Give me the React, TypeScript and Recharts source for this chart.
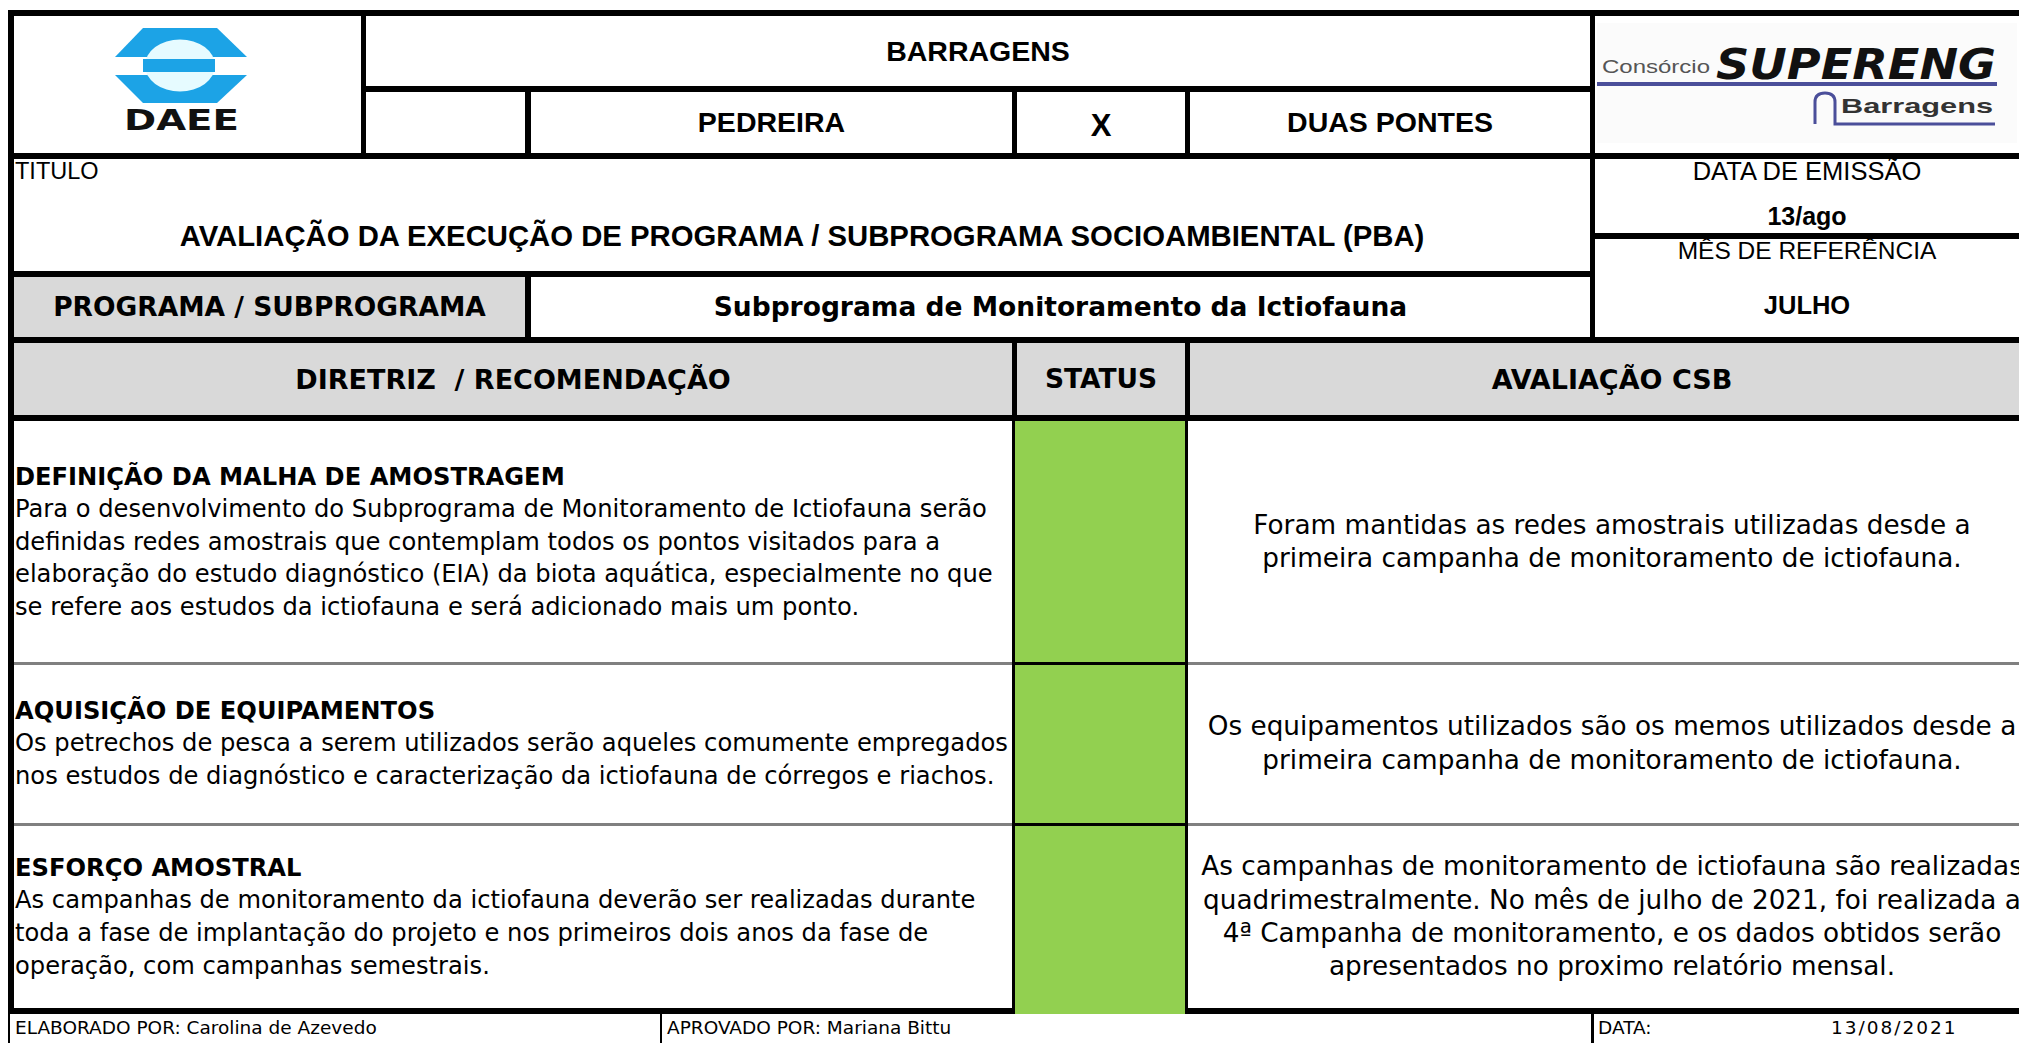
import { BarChart, Bar, XAxis, YAxis } from 'recharts';

const ARIAL = '"Liberation Sans", Arial, sans-serif';
const VERDANA = '"DejaVu Sans", Verdana, sans-serif';

const siteNames = ['PEDREIRA', 'X', 'DUAS PONTES'];
const docTitle = 'AVALIAÇÃO DA EXECUÇÃO DE PROGRAMA / SUBPROGRAMA SOCIOAMBIENTAL (PBA)';
const programName = 'Subprograma de Monitoramento da Ictiofauna';
const emissionDate = '13/ago';
const refMonth = 'JULHO';

const diretrizTitles = [
  'DEFINIÇÃO DA MALHA DE AMOSTRAGEM',
  'AQUISIÇÃO DE EQUIPAMENTOS',
  'ESFORÇO AMOSTRAL',
];
const diretrizLines = [
  [
    'Para o desenvolvimento do Subprograma de Monitoramento de Ictiofauna serão',
    'definidas redes amostrais que contemplam todos os pontos visitados para a',
    'elaboração do estudo diagnóstico (EIA) da biota aquática, especialmente no que',
    'se refere aos estudos da ictiofauna e será adicionado mais um ponto.',
  ],
  [
    'Os petrechos de pesca a serem utilizados serão aqueles comumente empregados',
    'nos estudos de diagnóstico e caracterização da ictiofauna de córregos e riachos.',
  ],
  [
    'As campanhas de monitoramento da ictiofauna deverão ser realizadas durante',
    'toda a fase de implantação do projeto e nos primeiros dois anos da fase de',
    'operação, com campanhas semestrais.',
  ],
];
const avaliacaoLines = [
  [
    'Foram mantidas as redes amostrais utilizadas desde a',
    'primeira campanha de monitoramento de ictiofauna.',
  ],
  [
    'Os equipamentos utilizados são os memos utilizados desde a',
    'primeira campanha de monitoramento de ictiofauna.',
  ],
  [
    'As campanhas de monitoramento de ictiofauna são realizadas',
    'quadrimestralmente. No mês de julho de 2021, foi realizada a',
    '4ª Campanha de monitoramento, e os dados obtidos serão',
    'apresentados no proximo relatório mensal.',
  ],
];
const statusValues = [1, 1, 1];
const statusColors = ['#92d050', '#92d050', '#92d050'];
const footerLabels = ['ELABORADO POR: Carolina de Azevedo', 'APROVADO POR: Mariana Bittu', 'DATA:', '13/08/2021'];

// row geometry of the body
const rowTops = [421, 663, 824];
const rowBottoms = [663, 824, 1010];

function Line({ x, y, w, h, c = '#000' }: { x: number; y: number; w: number; h: number; c?: string }) {
  return <div style={{ position: 'absolute', left: x, top: y, width: w, height: h, background: c }} />;
}

function Cell({ x, y, w, h, children, style }: any) {
  return (
    <div
      style={{
        position: 'absolute',
        left: x,
        top: y,
        width: w,
        height: h,
        display: 'flex',
        alignItems: 'center',
        justifyContent: 'center',
        whiteSpace: 'pre',
        lineHeight: 1,
        ...style,
      }}
    >
      {children}
    </div>
  );
}

function StatusCell({ w, h, value, color }: { w: number; h: number; value: number; color: string }) {
  const data = [{ name: 'status', value }];
  return (
    <BarChart width={w} height={h} data={data} layout="vertical" margin={{ top: 0, right: 0, bottom: 0, left: 0 }} barCategoryGap={0}>
      <XAxis type="number" domain={[0, 1]} hide />
      <YAxis type="category" dataKey="name" hide />
      <Bar dataKey="value" fill={color} isAnimationActive={false} />
    </BarChart>
  );
}

function DaeeLogo() {
  const blue = '#1ca3e6';
  return (
    <svg width={347} height={137} style={{ position: 'absolute', left: 14, top: 16 }}>
      <polygon points="129,12 203,12 233,41 101,41" fill={blue} />
      <polygon points="101,59 233,59 203,87 129,87" fill={blue} />
      <ellipse cx={166} cy={49.5} rx={35} ry={26} fill="#e6fbff" />
      <rect x={129} y={43} width={72} height={13} fill={blue} />
      <text x={110} y={114} fontFamily={VERDANA} fontWeight="bold" fontSize={29} textLength={115} lengthAdjust="spacingAndGlyphs" fill="#111">
        DAEE
      </text>
    </svg>
  );
}

function SuperengLogo() {
  const ink = '#4b4f9a';
  return (
    <svg width={424} height={137} style={{ position: 'absolute', left: 1595, top: 16 }}>
      <rect x={2} y={7} width={420} height={120} fill="#fbfbfb" />
      <text x={7} y={57} fontFamily={ARIAL} fontSize={18} fill="#555" textLength={108} lengthAdjust="spacingAndGlyphs">
        Consórcio
      </text>
      <text x={121} y={63} fontFamily={VERDANA} fontWeight="bold" fontStyle="italic" fontSize={42} textLength={280} lengthAdjust="spacingAndGlyphs" fill="#111">
        SUPERENG
      </text>
      <rect x={2} y={66} width={400} height={4} fill={ink} />
      <path d="M220 108 V86 Q220 77 230 77 Q240 77 240 86 V108 H400" stroke={ink} strokeWidth={3} fill="none" />
      <text x={246} y={97} fontFamily={ARIAL} fontWeight="bold" fontSize={21} textLength={152} lengthAdjust="spacingAndGlyphs" fill="#333">
        Barragens
      </text>
    </svg>
  );
}

export default function App() {
  const leftFont = { fontFamily: VERDANA, fontSize: 24.2, color: '#000' };
  const rightFont = { fontFamily: VERDANA, fontSize: 26.3, color: '#000' };
  const headBold = { fontFamily: VERDANA, fontSize: 26.5, fontWeight: 'bold' as const };
  const arialBold = { fontFamily: ARIAL, fontSize: 28.5, fontWeight: 'bold' as const };
  const footFont = { fontFamily: VERDANA, fontSize: 18.5, justifyContent: 'flex-start' };
  return (
    <div style={{ position: 'fixed', left: 0, top: 0, width: 2019, height: 1043, overflow: 'hidden', background: '#fff' }}>
      {/* fills */}
      <Line x={14} y={277} w={511} h={60} c="#d9d9d9" />
      <Line x={14} y={343} w={2005} h={72} c="#d9d9d9" />
      {statusValues.map((v, i) => {
        const h = rowBottoms[i] - rowTops[i] + (i === 2 ? 4 : 0);
        return (
          <div key={i} style={{ position: 'absolute', left: 1015, top: rowTops[i], width: 171, height: h }}>
            <StatusCell w={171} h={h} value={v} color={statusColors[i]} />
          </div>
        );
      })}

      <DaeeLogo />
      <SuperengLogo />

      {/* header texts */}
      <Cell x={366} y={16} w={1224} h={70} style={arialBold}>BARRAGENS</Cell>
      <Cell x={531} y={92} w={481} h={61} style={arialBold}>{siteNames[0]}</Cell>
      <Cell x={1017} y={95} w={168} h={61} style={{ ...arialBold, fontSize: 31 }}>{siteNames[1]}</Cell>
      <Cell x={1190} y={92} w={400} h={61} style={arialBold}>{siteNames[2]}</Cell>
      <Cell x={15} y={160} w={200} h={24} style={{ fontFamily: ARIAL, fontSize: 23.5, justifyContent: 'flex-start' }}>TITULO</Cell>
      <Cell x={14} y={216} w={1576} h={40} style={{ ...arialBold, fontSize: 29.3 }}>{docTitle}</Cell>
      <Cell x={1595} y={160} w={424} h={24} style={{ fontFamily: ARIAL, fontSize: 25.5 }}>DATA DE EMISSÃO</Cell>
      <Cell x={1595} y={204} w={424} h={24} style={{ fontFamily: ARIAL, fontSize: 25, fontWeight: 'bold' }}>{emissionDate}</Cell>
      <Cell x={1595} y={239} w={424} h={24} style={{ fontFamily: ARIAL, fontSize: 24.5 }}>MÊS DE REFERÊNCIA</Cell>
      <Cell x={1595} y={293} w={424} h={26} style={{ fontFamily: ARIAL, fontSize: 25.5, fontWeight: 'bold' }}>{refMonth}</Cell>
      <Cell x={14} y={277} w={511} h={60} style={headBold}>PROGRAMA / SUBPROGRAMA</Cell>
      <Cell x={531} y={277} w={1059} h={60} style={headBold}>{programName}</Cell>
      <Cell x={14} y={343} w={998} h={72} style={{ ...headBold, fontSize: 27 }}>DIRETRIZ  / RECOMENDAÇÃO</Cell>
      <Cell x={1017} y={343} w={168} h={72} style={headBold}>STATUS</Cell>
      <Cell x={1190} y={343} w={844} h={72} style={{ ...headBold, fontSize: 27 }}>AVALIAÇÃO CSB</Cell>

      {/* body rows */}
      {diretrizTitles.map((t, i) => (
        <div
          key={'d' + i}
          style={{
            position: 'absolute',
            left: 15,
            top: rowTops[i],
            width: 997,
            height: rowBottoms[i] - rowTops[i],
            display: 'flex',
            flexDirection: 'column',
            justifyContent: 'center',
            whiteSpace: 'pre',
            lineHeight: '32.6px',
            ...leftFont,
          }}
        >
          <div style={{ fontWeight: 'bold' }}>{t}</div>
          {diretrizLines[i].map((l, j) => (
            <div key={j}>{l}</div>
          ))}
        </div>
      ))}
      {avaliacaoLines.map((lines, i) => (
        <div
          key={'a' + i}
          style={{
            position: 'absolute',
            left: 1190,
            top: rowTops[i],
            width: 844,
            height: rowBottoms[i] - rowTops[i],
            display: 'flex',
            flexDirection: 'column',
            justifyContent: 'center',
            alignItems: 'center',
            whiteSpace: 'pre',
            lineHeight: '33.3px',
            ...rightFont,
          }}
        >
          {lines.map((l, j) => (
            <div key={j}>{l}</div>
          ))}
        </div>
      ))}

      {/* footer */}
      <Cell x={15} y={1016} w={640} h={24} style={footFont}>{footerLabels[0]}</Cell>
      <Cell x={667} y={1016} w={900} h={24} style={footFont}>{footerLabels[1]}</Cell>
      <Cell x={1598} y={1016} w={200} h={24} style={footFont}>{footerLabels[2]}</Cell>
      <Cell x={1831} y={1016} w={180} h={24} style={{ ...footFont, letterSpacing: 2 }}>{footerLabels[3]}</Cell>

      {/* grid lines */}
      <Line x={8} y={10} w={2011} h={6} />
      <Line x={8} y={10} w={6} h={1004} />
      <Line x={8} y={1014} w={2} h={29} />
      <Line x={361} y={16} w={5} h={137} />
      <Line x={366} y={86} w={1224} h={6} />
      <Line x={525} y={92} w={6} h={61} />
      <Line x={1012} y={92} w={5} h={61} />
      <Line x={1185} y={92} w={5} h={61} />
      <Line x={1590} y={16} w={5} h={321} />
      <Line x={8} y={153} w={2011} h={6} />
      <Line x={1595} y={233} w={424} h={6} />
      <Line x={8} y={271} w={1582} h={6} />
      <Line x={525} y={277} w={6} h={60} />
      <Line x={8} y={337} w={2011} h={6} />
      <Line x={1012} y={343} w={5} h={72} />
      <Line x={1185} y={343} w={5} h={72} />
      <Line x={8} y={415} w={2011} h={6} />
      {rowBottoms.slice(0, 2).map((y, i) => (
        <div key={'s' + i}>
          <Line x={14} y={y - 1} w={998} h={3} c="#808080" />
          <Line x={1188} y={y - 1} w={831} h={3} c="#808080" />
          <Line x={1012} y={y - 1} w={176} h={3} />
        </div>
      ))}
      <Line x={1012} y={421} w={3} h={589} />
      <Line x={1185} y={421} w={3} h={589} />
      <Line x={8} y={1008} w={1007} h={6} />
      <Line x={1185} y={1008} w={834} h={6} />
      <Line x={660} y={1014} w={2} h={29} />
      <Line x={1591} y={1014} w={3} h={29} />
    </div>
  );
}
